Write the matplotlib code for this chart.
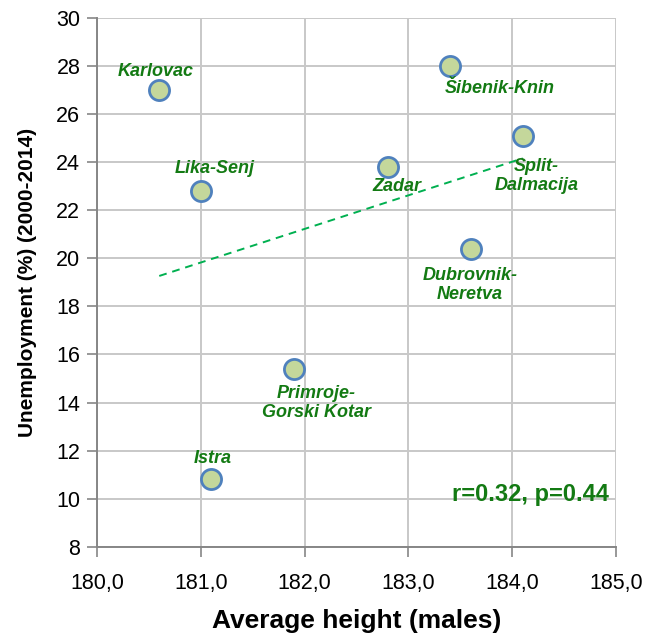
import matplotlib

matplotlib.use("Agg")
import matplotlib.pyplot as plt
import numpy as np

# data
regions = [
    "Karlovac", "Lika-Senj", "Primroje-\nGorski Kotar", "Istra",
    "Zadar", "Šibenik-Knin", "Split-\nDalmacija", "Dubrovnik-\nNeretva",
]
height = [180.6, 181.0, 181.9, 181.1, 182.8, 183.4, 184.1, 183.6]
unemployment = [27.0, 22.8, 15.4, 10.8, 23.8, 28.0, 25.1, 20.4]
stats_label = "r=0.32, p=0.44"

# label offsets in pixels relative to each point
LABEL_OFFSET = {
    "Karlovac": (-4, 19),
    "Lika-Senj": (14, 23),
    "Primroje-\nGorski Kotar": (22, -34),
    "Istra": (2, 21),
    "Zadar": (9, -19),
    "Šibenik-Knin": (50, -22),
    "Split-\nDalmacija": (14, -40),
    "Dubrovnik-\nNeretva": (-1, -36),
}

LABEL_FONT = ["Liberation Sans Narrow", "Liberation Sans", "DejaVu Sans"]
GREEN = "#137A13"

plt.rcParams["font.family"] = ["Liberation Sans", "DejaVu Sans"]

fig = plt.figure(figsize=(6.64, 6.44), dpi=100)
ax = fig.add_axes([0.146, 0.151, 0.782, 0.821])

x = np.array(height)
y = np.array(unemployment)
slope, intercept = np.polyfit(x, y, 1)
xs = np.array([x.min(), x.max()])
ax.plot(xs, slope * xs + intercept, linestyle=(0, (4, 3)), color="#00B050", linewidth=1.4, zorder=2)

ax.scatter(x, y, s=210, facecolor="#C4D79B", edgecolor="#4F81BD", linewidth=2.0, zorder=3)

for name, xi, yi in zip(regions, height, unemployment):
    dx, dy = LABEL_OFFSET[name]
    ax.annotate(
        name, (xi, yi), xytext=(dx, dy), textcoords="offset pixels",
        ha="center", va="center", fontsize=13, fontweight="bold", fontstyle="italic",
        color=GREEN, family=LABEL_FONT, linespacing=1.15, zorder=4,
    )

ax.text(0.985, 0.099, stats_label, transform=ax.transAxes, ha="right", va="center",
        fontsize=17, fontweight="bold", color=GREEN, family=LABEL_FONT)

ax.set_xlim(180, 185)
ax.set_ylim(8, 30)
ax.set_xticks(np.arange(180, 185.5, 1.0))
ax.set_xticklabels([f"{v:.1f}".replace(".", ",") for v in np.arange(180, 185.5, 1.0)])
ax.set_yticks(np.arange(8, 31, 2))
ax.tick_params(axis="both", direction="out", length=7, width=1.2, color="#868686",
               labelsize=15.5, labelcolor="black")
ax.tick_params(axis="x", pad=12)
ax.tick_params(axis="y", pad=5)

ax.grid(True, color="#C8C8C8", linewidth=1.4)
ax.set_axisbelow(True)
for side in ("top", "right"):
    ax.spines[side].set_visible(False)
for side in ("left", "bottom"):
    ax.spines[side].set_color("#868686")
    ax.spines[side].set_linewidth(1.4)

ax.set_xlabel("Average height (males)", fontsize=19, fontweight="bold", family=LABEL_FONT, labelpad=11)
ax.set_ylabel("Unemployment (%) (2000-2014)", fontsize=15, fontweight="bold", family=LABEL_FONT, labelpad=14)

fig.savefig("out.png", dpi=100)
